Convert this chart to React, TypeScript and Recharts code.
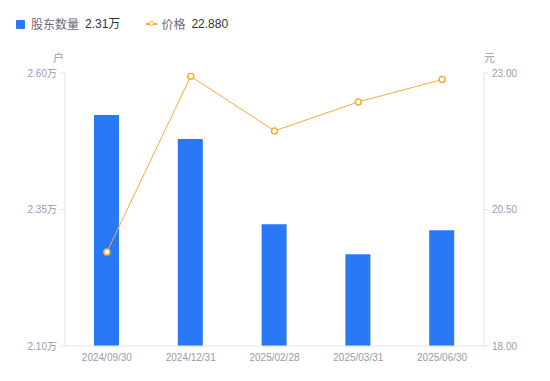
import React from "react";
import { ComposedChart, Bar, Line, XAxis, YAxis } from "recharts";

const categories = ["2024/09/30", "2024/12/31", "2025/02/28", "2025/03/31", "2025/06/30"];
const holders = [2.523, 2.479, 2.323, 2.268, 2.312]; // 万户
const prices = [19.72, 22.94, 21.94, 22.47, 22.88]; // 元
const leftTicks = [2.1, 2.35, 2.6];
const rightTicks = [18, 20.5, 23];

const data = categories.map((c, i) => ({ date: c, holders: holders[i], price: prices[i] }));

const FONT = "Arial, 'Liberation Sans', 'Noto Sans CJK SC', sans-serif";
const TICK = { fill: "#9a9aa8", fontSize: 10, fontFamily: FONT };
const AXIS = "#e3e3e3";
const ORANGE = "#f6ad35";

export default function App() {
  return (
    <div style={{ position: "absolute", left: 0, top: 0, width: 550, height: 381, fontFamily: FONT, background: "#fff" }}>
      <div style={{ position: "absolute", left: 16, top: 15, display: "flex", alignItems: "center", fontSize: 12, lineHeight: "18px" }}>
        <span style={{ width: 9, height: 9, background: "#2979f6", borderRadius: 1, display: "inline-block", marginRight: 6 }} />
        <span style={{ color: "#6b6b78", fontFamily: "'Noto Sans CJK SC', sans-serif" }}>股东数量</span>
        <span style={{ color: "#333", marginLeft: 6 }}>2.31万</span>
        <span style={{ marginLeft: 26, position: "relative", width: 11, height: 10, display: "inline-block" }}>
          <span style={{ position: "absolute", left: 0, top: 4, width: 11, height: 1.5, background: ORANGE }} />
          <span style={{ position: "absolute", left: 2.5, top: 1.5, width: 3, height: 3, border: "1.5px solid " + ORANGE, borderRadius: "50%", background: "#fff" }} />
        </span>
        <span style={{ color: "#6b6b78", marginLeft: 4, fontFamily: "'Noto Sans CJK SC', sans-serif" }}>价格</span>
        <span style={{ color: "#333", marginLeft: 6 }}>22.880</span>
      </div>
      <div style={{ position: "absolute", left: 53, top: 49, fontSize: 11, color: "#9a9aa8", fontFamily: "'Noto Sans CJK SC', sans-serif" }}>户</div>
      <div style={{ position: "absolute", left: 484, top: 49, fontSize: 11, color: "#9a9aa8", fontFamily: "'Noto Sans CJK SC', sans-serif" }}>元</div>
      <ComposedChart width={550} height={381} data={data} margin={{ top: 73, right: 0, bottom: 0, left: 0 }}>
        <XAxis dataKey="date" height={35} tick={TICK} tickLine={false} axisLine={{ stroke: AXIS }} interval={0} />
        <YAxis
          yAxisId="left"
          orientation="left"
          width={65}
          domain={[2.1, 2.6]}
          ticks={leftTicks}
          tick={TICK}
          tickSize={4}
          tickMargin={4}
          tickLine={{ stroke: AXIS }}
          axisLine={{ stroke: AXIS }}
          tickFormatter={(v: number) => v.toFixed(2) + "万"}
          allowDataOverflow
        />
        <YAxis
          yAxisId="right"
          orientation="right"
          width={66}
          domain={[18, 23]}
          ticks={rightTicks}
          tick={TICK}
          tickSize={4}
          tickMargin={4}
          tickLine={{ stroke: AXIS }}
          axisLine={{ stroke: AXIS }}
          tickFormatter={(v: number) => v.toFixed(2)}
          allowDataOverflow
        />
        <Bar yAxisId="left" dataKey="holders" fill="#2979f6" barSize={25} isAnimationActive={false} />
        <Line
          yAxisId="right"
          dataKey="price"
          type="linear"
          stroke={ORANGE}
          strokeWidth={1}
          dot={{ r: 3, stroke: ORANGE, strokeWidth: 1.5, fill: "#fff" }}
          isAnimationActive={false}
        />
      </ComposedChart>
    </div>
  );
}
